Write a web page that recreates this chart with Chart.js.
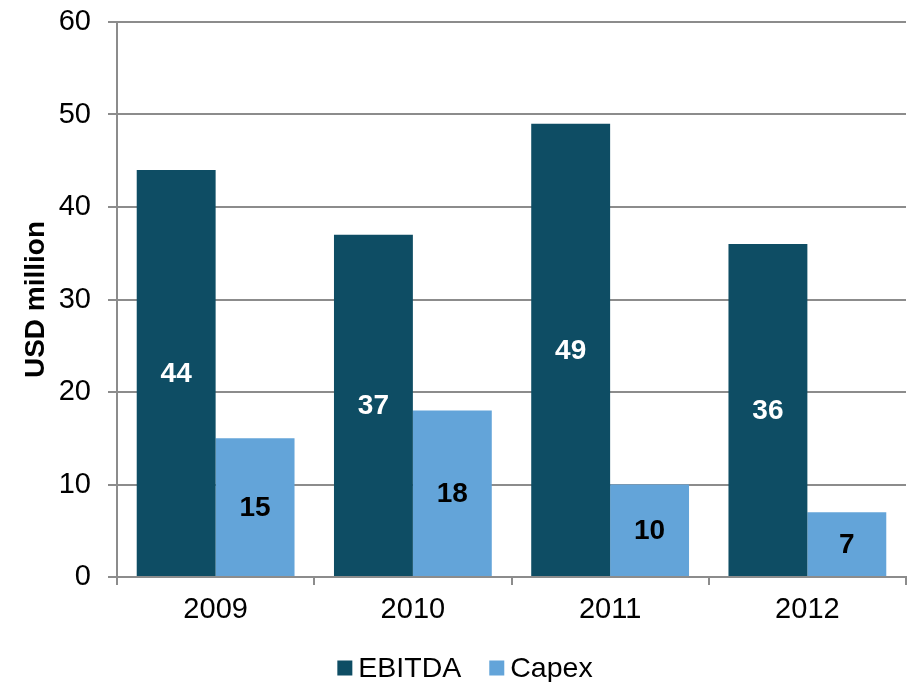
<!DOCTYPE html>
<html>
<head>
<meta charset="utf-8">
<script src="https://cdn.jsdelivr.net/npm/chart.js@4.4.1/dist/chart.umd.min.js"></script>
<style>
  html, body { margin: 0; padding: 0; background: #ffffff; }
  #wrap { width: 908px; height: 682px; position: relative; }
</style>
</head>
<body>
<div id="wrap"><canvas id="c" width="908" height="682"></canvas></div>
<script>
// Annual figures, USD million
const years = ['2009', '2010', '2011', '2012'];
const ebitda = [44, 37, 49, 36];
const capex = [15, 18, 10, 7];
const yTicks = [0, 10, 20, 30, 40, 50, 60];

const FONT = "'Liberation Sans', Arial, Helvetica, sans-serif";
const DARK = '#0e4d64';
const LIGHT = '#63a4d9';
const GRID = '#8c8c8c';

// Value labels centred inside each bar
const barValueLabels = {
  id: 'barValueLabels',
  afterDatasetsDraw(chart) {
    const ctx = chart.ctx;
    ctx.save();
    ctx.font = 'bold 28px ' + FONT;
    ctx.textAlign = 'center';
    ctx.textBaseline = 'middle';
    chart.data.datasets.forEach((ds, di) => {
      const meta = chart.getDatasetMeta(di);
      meta.data.forEach((bar, i) => {
        ctx.fillStyle = ds.labelColor;
        ctx.fillText(String(ds.data[i]), bar.x, (bar.y + bar.base) / 2 + 1);
      });
    });
    ctx.restore();
  }
};

// Compact legend along the bottom edge
const bottomLegend = {
  id: 'bottomLegend',
  afterDraw(chart) {
    const ctx = chart.ctx;
    ctx.save();
    ctx.font = '28.5px ' + FONT;
    ctx.textBaseline = 'middle';
    const box = 15, gapText = 6, gapItem = 28;
    const items = chart.data.datasets.map(ds => ({ label: ds.label, color: ds.backgroundColor, w: ctx.measureText(ds.label).width }));
    const total = items.reduce((s, it) => s + box + gapText + it.w, 0) + gapItem * (items.length - 1);
    let x = 465 - total / 2;
    const cy = 668;
    items.forEach(it => {
      ctx.fillStyle = it.color;
      ctx.fillRect(x, cy - box / 2, box, box);
      x += box + gapText;
      ctx.fillStyle = '#000000';
      ctx.textAlign = 'left';
      ctx.fillText(it.label, x, cy + 1);
      x += it.w + gapItem;
    });
    ctx.restore();
  }
};

new Chart(document.getElementById('c'), {
  type: 'bar',
  data: {
    labels: years,
    datasets: [
      { label: 'EBITDA', data: ebitda, backgroundColor: DARK, labelColor: '#ffffff' },
      { label: 'Capex', data: capex, backgroundColor: LIGHT, labelColor: '#000000' }
    ]
  },
  options: {
    responsive: false,
    animation: false,
    devicePixelRatio: 1,
    layout: { padding: { top: 0, right: 2, left: 0, bottom: 0 } },
    datasets: { bar: { categoryPercentage: 0.8, barPercentage: 1.0 } },
    plugins: {
      legend: { display: false },
      tooltip: { enabled: false }
    },
    scales: {
      x: {
        afterFit(scale) { scale.height = 105; },
        grid: { display: true, drawOnChartArea: false, drawTicks: true, tickLength: 8, color: GRID, lineWidth: 2, offset: true },
        border: { display: true, color: GRID, width: 2 },
        ticks: { color: '#000000', font: { family: FONT, size: 29 }, padding: 8 }
      },
      y: {
        min: 0,
        max: 60,
        afterFit(scale) {
          scale.width = 117;
          scale.paddingTop = 22;
        },
        afterBuildTicks(scale) { scale.ticks = yTicks.map(v => ({ value: v })); },
        grid: { color: GRID, lineWidth: 2, drawTicks: true, tickLength: 9 },
        border: { display: true, color: GRID, width: 2 },
        ticks: { color: '#000000', font: { family: FONT, size: 29 }, padding: 17 },
        title: {
          display: true,
          text: 'USD million',
          color: '#000000',
          font: { family: FONT, size: 28, weight: 'bold' },
          padding: { top: 19, bottom: 0 }
        }
      }
    }
  },
  plugins: [barValueLabels, bottomLegend]
});
</script>
</body>
</html>
